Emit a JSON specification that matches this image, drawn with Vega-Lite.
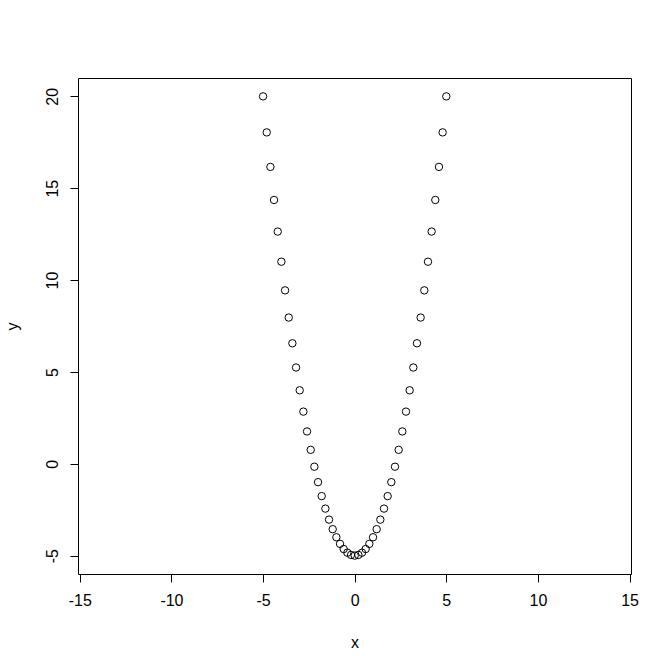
{
  "$schema": "https://vega.github.io/schema/vega-lite/v6.json",
  "width": 553,
  "height": 496,
  "autosize": {"type": "none"},
  "padding": {"left": 78, "top": 78, "right": 41, "bottom": 98},
  "background": "white",
  "config": {"view": {"stroke": "black", "strokeWidth": 1}, "font": "Liberation Sans"},
  "data": {"values": [
    {"x": -5.0, "y": 20.0}, {"x": -4.8, "y": 18.04}, {"x": -4.6, "y": 16.16}, {"x": -4.4, "y": 14.36},
    {"x": -4.2, "y": 12.64}, {"x": -4.0, "y": 11.0}, {"x": -3.8, "y": 9.44}, {"x": -3.6, "y": 7.96},
    {"x": -3.4, "y": 6.56}, {"x": -3.2, "y": 5.24}, {"x": -3.0, "y": 4.0}, {"x": -2.8, "y": 2.84},
    {"x": -2.6, "y": 1.76}, {"x": -2.4, "y": 0.76}, {"x": -2.2, "y": -0.16}, {"x": -2.0, "y": -1.0},
    {"x": -1.8, "y": -1.76}, {"x": -1.6, "y": -2.44}, {"x": -1.4, "y": -3.04}, {"x": -1.2, "y": -3.56},
    {"x": -1.0, "y": -4.0}, {"x": -0.8, "y": -4.36}, {"x": -0.6, "y": -4.64}, {"x": -0.4, "y": -4.84},
    {"x": -0.2, "y": -4.96}, {"x": 0.0, "y": -5.0}, {"x": 0.2, "y": -4.96}, {"x": 0.4, "y": -4.84},
    {"x": 0.6, "y": -4.64}, {"x": 0.8, "y": -4.36}, {"x": 1.0, "y": -4.0}, {"x": 1.2, "y": -3.56},
    {"x": 1.4, "y": -3.04}, {"x": 1.6, "y": -2.44}, {"x": 1.8, "y": -1.76}, {"x": 2.0, "y": -1.0},
    {"x": 2.2, "y": -0.16}, {"x": 2.4, "y": 0.76}, {"x": 2.6, "y": 1.76}, {"x": 2.8, "y": 2.84},
    {"x": 3.0, "y": 4.0}, {"x": 3.2, "y": 5.24}, {"x": 3.4, "y": 6.56}, {"x": 3.6, "y": 7.96},
    {"x": 3.8, "y": 9.44}, {"x": 4.0, "y": 11.0}, {"x": 4.2, "y": 12.64}, {"x": 4.4, "y": 14.36},
    {"x": 4.6, "y": 16.16}, {"x": 4.8, "y": 18.04}, {"x": 5.0, "y": 20.0}
  ]},
  "mark": {"type": "point", "shape": "circle", "filled": false, "color": "black", "size": 55, "strokeWidth": 1, "opacity": 1},
  "encoding": {
    "x": {
      "field": "x", "type": "quantitative",
      "scale": {"domain": [-15.1, 15.08], "nice": false, "zero": false},
      "axis": {
        "values": [-15, -10, -5, 0, 5, 10, 15], "grid": false, "domain": false,
        "labelExpr": "'' + datum.value",
        "tickColor": "black", "tickSize": 8, "labelFont": "Liberation Sans", "labelFontSize": 16,
        "labelColor": "black", "labelPadding": 10, "labelFlush": false, "labelOverlap": false,
        "title": "x", "titleFont": "Liberation Sans", "titleFontWeight": "normal", "titleFontSize": 16,
        "titleColor": "black", "titleY": 73, "titleBaseline": "alphabetic"
      }
    },
    "y": {
      "field": "y", "type": "quantitative",
      "scale": {"domain": [-6, 21], "nice": false, "zero": false},
      "axis": {
        "values": [-5, 0, 5, 10, 15, 20], "grid": false, "domain": false,
        "labelExpr": "'' + datum.value",
        "tickColor": "black", "tickSize": 8, "labelFont": "Liberation Sans", "labelFontSize": 16,
        "labelColor": "black", "labelPadding": 10, "labelAngle": -90, "labelAlign": "center",
        "labelBaseline": "bottom", "labelFlush": false, "labelOverlap": false,
        "title": "y", "titleFont": "Liberation Sans", "titleFontWeight": "normal", "titleFontSize": 16,
        "titleColor": "black", "titleX": -61, "titleAngle": -90, "titleBaseline": "alphabetic"
      }
    }
  }
}
